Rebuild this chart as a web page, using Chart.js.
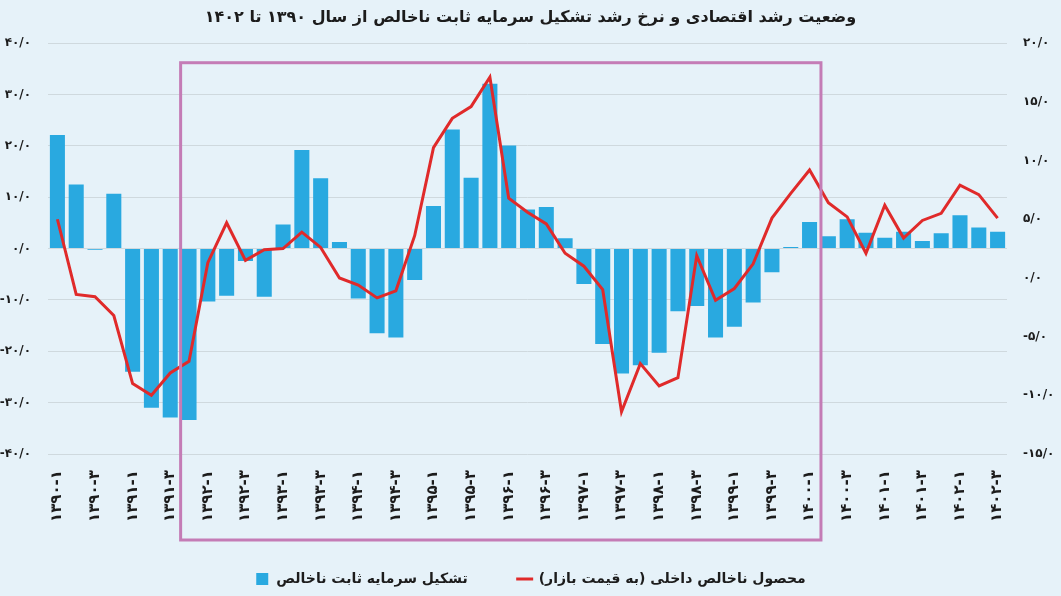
<!DOCTYPE html>
<html lang="fa">
<head>
<meta charset="utf-8">
<script src="https://cdn.jsdelivr.net/npm/chart.js@4.4.1/dist/chart.umd.min.js"></script>
<style>
html,body{margin:0;padding:0;background:#e6f2f9;overflow:hidden}
canvas{display:block}
</style>
</head>
<body>
<canvas id="c" width="1061" height="596"></canvas>
<script>
// Quarterly categories (1390-Q1 .. 1402-Q3)
const categories = [
  '۱۳۹۰-۱','۱۳۹۰-۲','۱۳۹۰-۳','۱۳۹۰-۴',
  '۱۳۹۱-۱','۱۳۹۱-۲','۱۳۹۱-۳','۱۳۹۱-۴',
  '۱۳۹۲-۱','۱۳۹۲-۲','۱۳۹۲-۳','۱۳۹۲-۴',
  '۱۳۹۳-۱','۱۳۹۳-۲','۱۳۹۳-۳','۱۳۹۳-۴',
  '۱۳۹۴-۱','۱۳۹۴-۲','۱۳۹۴-۳','۱۳۹۴-۴',
  '۱۳۹۵-۱','۱۳۹۵-۲','۱۳۹۵-۳','۱۳۹۵-۴',
  '۱۳۹۶-۱','۱۳۹۶-۲','۱۳۹۶-۳','۱۳۹۶-۴',
  '۱۳۹۷-۱','۱۳۹۷-۲','۱۳۹۷-۳','۱۳۹۷-۴',
  '۱۳۹۸-۱','۱۳۹۸-۲','۱۳۹۸-۳','۱۳۹۸-۴',
  '۱۳۹۹-۱','۱۳۹۹-۲','۱۳۹۹-۳','۱۳۹۹-۴',
  '۱۴۰۰-۱','۱۴۰۰-۲','۱۴۰۰-۳','۱۴۰۰-۴',
  '۱۴۰۱-۱','۱۴۰۱-۲','۱۴۰۱-۳','۱۴۰۱-۴',
  '۱۴۰۲-۱','۱۴۰۲-۲','۱۴۰۲-۳'
];

// Gross fixed capital formation growth (%), left axis
const gfcfGrowth = [
  22.1, 12.5, -0.2, 10.7,
  -24.0, -31.0, -32.9, -33.4,
  -10.3, -9.2, -2.4, -9.4,
  4.7, 19.2, 13.7, 1.3,
  -9.7, -16.5, -17.3, -6.1,
  8.3, 23.2, 13.8, 32.1,
  20.1, 7.6, 8.1, 2.0,
  -6.9, -18.6, -24.3, -22.7,
  -20.3, -12.2, -11.2, -17.3,
  -15.2, -10.5, -4.6, 0.3,
  5.2, 2.4, 5.7, 3.1,
  2.1, 3.3, 1.5, 3.0,
  6.5, 4.1, 3.3
];

// GDP growth at market prices (%), right axis
const gdpGrowth = [
  5.0, -1.4, -1.6, -3.2,
  -9.0, -10.0, -8.1, -7.1,
  1.3, 4.7, 1.5, 2.4,
  2.5, 3.9, 2.6, 0.0,
  -0.6, -1.7, -1.1, 3.6,
  11.1, 13.6, 14.6, 17.1,
  6.8, 5.6, 4.6, 2.1,
  1.0, -1.0, -11.4, -7.3,
  -9.2, -8.5, 1.9, -1.9,
  -0.9, 1.2, 5.1, 7.2,
  9.2, 6.4, 5.2, 2.1,
  6.2, 3.4, 4.9, 5.5,
  7.9, 7.1, 5.1
];

// Axis tick ranges
const leftTicks = { min: -40, max: 40, step: 10 };
const rightTicks = { min: -15, max: 20, step: 5 };

// Highlighted range (category indices)
const highlightFrom = 7;
const highlightTo = 40;

const titleText = 'وضعیت رشد اقتصادی و نرخ رشد تشکیل سرمایه ثابت ناخالص از سال ۱۳۹۰ تا ۱۴۰۲';
const seriesNames = ['محصول ناخالص داخلی (به قیمت بازار)', 'تشکیل سرمایه ثابت ناخالص'];

const RLM = '\u200F';
const faDigits = '۰۱۲۳۴۵۶۷۸۹';
function fa(v) {
  return Number(v).toFixed(1).replace(/\d/g, d => faDigits[d]).replace('.', '/');
}

const FONT = "'DejaVu Sans', sans-serif";
const TXT = '#1c1c1c';

const bgPlugin = {
  id: 'bg',
  beforeDraw(chart) {
    const ctx = chart.ctx;
    ctx.save();
    ctx.fillStyle = '#e6f2f9';
    ctx.fillRect(0, 0, chart.width, chart.height);
    ctx.restore();
  }
};

const boxPlugin = {
  id: 'highlightBox',
  afterDraw(chart) {
    const x = chart.scales.x, y = chart.scales.y, ctx = chart.ctx;
    const l = (x.getPixelForValue(highlightFrom - 1) + x.getPixelForValue(highlightFrom)) / 2 + 1;
    const r = (x.getPixelForValue(highlightTo) + x.getPixelForValue(highlightTo + 1)) / 2 + 2;
    const t = y.getPixelForValue(36.2);
    const b = x.top + 86;
    ctx.save();
    ctx.strokeStyle = '#c47cb6';
    ctx.lineWidth = 3;
    ctx.strokeRect(l, t, r - l, b - t);
    ctx.restore();
  }
};

new Chart(document.getElementById('c'), {
  data: {
    labels: categories,
    datasets: [
      {
        type: 'line',
        label: RLM + seriesNames[0] + RLM,
        data: gdpGrowth,
        yAxisID: 'y1',
        borderColor: '#e02a2a',
        backgroundColor: '#e02a2a',
        borderWidth: 3,
        pointRadius: 0,
        tension: 0,
        pointStyle: 'line',
        order: 0
      },
      {
        type: 'bar',
        label: RLM + seriesNames[1] + RLM,
        data: gfcfGrowth,
        yAxisID: 'y',
        backgroundColor: '#29a9e0',
        borderWidth: 0,
        barPercentage: 0.8,
        categoryPercentage: 1.0,
        pointStyle: 'rect',
        order: 1
      }
    ]
  },
  options: {
    responsive: false,
    animation: false,
    devicePixelRatio: 1,
    layout: { padding: 0 },
    plugins: {
      title: {
        display: true,
        text: RLM + titleText + RLM,
        color: TXT,
        font: { family: FONT, size: 16, weight: 'bold' },
        padding: { top: 8, bottom: 16 }
      },
      legend: {
        position: 'bottom',
        reverse: true,
        labels: {
          usePointStyle: true,
          boxWidth: 14,
          boxHeight: 12,
          padding: 50,
          color: TXT,
          font: { family: FONT, size: 14, weight: 'bold' }
        }
      },
      tooltip: { enabled: false }
    },
    scales: {
      x: {
        grid: { display: false, drawTicks: false },
        border: { display: false },
        ticks: {
          autoSkip: false,
          minRotation: 90,
          maxRotation: 90,
          padding: 16,
          color: TXT,
          font: { family: FONT, size: 15, weight: 'bold' },
          callback: (v, i) => (i % 2 === 0 ? categories[i] : '')
        },
        afterFit(s) { s.height = 68; }
      },
      y: {
        position: 'left',
        min: leftTicks.min,
        max: leftTicks.max,
        ticks: {
          stepSize: leftTicks.step,
          padding: 17,
          color: TXT,
          font: { family: FONT, size: 12, weight: 'bold' },
          callback: v => fa(v)
        },
        grid: { color: '#cfd9de', lineWidth: 1, drawTicks: false },
        border: { display: false },
        afterFit(s) { s.width = 48; }
      },
      y1: {
        position: 'right',
        min: rightTicks.min,
        max: rightTicks.max,
        ticks: {
          stepSize: rightTicks.step,
          padding: 16,
          color: TXT,
          font: { family: FONT, size: 12, weight: 'bold' },
          callback: v => fa(v)
        },
        grid: { display: false, drawTicks: false },
        border: { display: false },
        afterFit(s) { s.width = 54; }
      }
    }
  },
  plugins: [bgPlugin, boxPlugin]
});
</script>
</body>
</html>
